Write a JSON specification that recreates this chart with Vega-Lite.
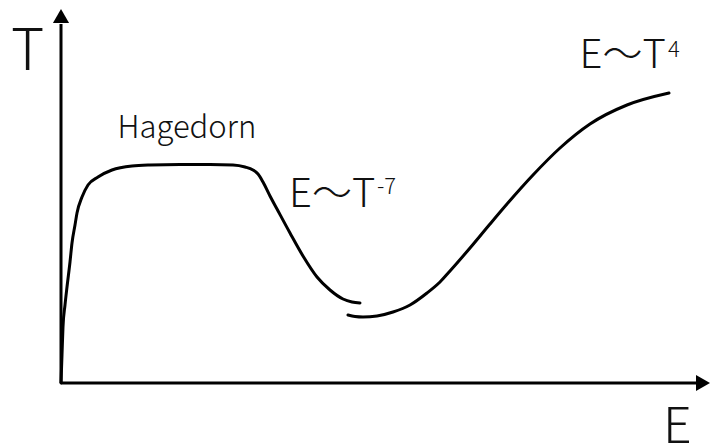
{
  "$schema": "https://vega.github.io/schema/vega-lite/v6.json",
  "width": 710,
  "height": 448,
  "autosize": {"type": "none"},
  "padding": 0,
  "background": "white",
  "config": {"view": {"stroke": null}, "text": {"font": "Noto Sans CJK JP", "fontWeight": 300, "color": "#111"}},
  "datasets": {
    "curves": [
      {"curve": "a", "E": 61, "T": 65},
      {"curve": "a", "E": 62, "T": 93},
      {"curve": "a", "E": 63, "T": 121},
      {"curve": "a", "E": 65, "T": 143},
      {"curve": "a", "E": 67, "T": 161},
      {"curve": "a", "E": 70, "T": 186},
      {"curve": "a", "E": 72, "T": 205},
      {"curve": "a", "E": 75, "T": 223},
      {"curve": "a", "E": 77, "T": 235},
      {"curve": "a", "E": 82, "T": 251},
      {"curve": "a", "E": 88, "T": 263},
      {"curve": "a", "E": 98, "T": 271},
      {"curve": "a", "E": 112, "T": 278},
      {"curve": "a", "E": 132, "T": 282},
      {"curve": "a", "E": 150, "T": 283},
      {"curve": "a", "E": 180, "T": 283.5},
      {"curve": "a", "E": 210, "T": 283.5},
      {"curve": "a", "E": 233, "T": 283},
      {"curve": "a", "E": 245, "T": 281},
      {"curve": "a", "E": 253, "T": 278},
      {"curve": "a", "E": 258, "T": 274},
      {"curve": "a", "E": 263, "T": 266},
      {"curve": "a", "E": 270, "T": 252},
      {"curve": "a", "E": 277, "T": 239},
      {"curve": "a", "E": 290, "T": 215},
      {"curve": "a", "E": 303, "T": 192},
      {"curve": "a", "E": 317, "T": 171},
      {"curve": "a", "E": 330, "T": 158},
      {"curve": "a", "E": 343, "T": 149},
      {"curve": "a", "E": 352, "T": 146},
      {"curve": "a", "E": 360, "T": 145},
      {"curve": "b", "E": 348, "T": 133},
      {"curve": "b", "E": 355, "T": 131.5},
      {"curve": "b", "E": 363, "T": 131},
      {"curve": "b", "E": 377, "T": 132},
      {"curve": "b", "E": 393, "T": 136},
      {"curve": "b", "E": 410, "T": 143},
      {"curve": "b", "E": 427, "T": 155},
      {"curve": "b", "E": 440, "T": 166},
      {"curve": "b", "E": 450, "T": 177},
      {"curve": "b", "E": 470, "T": 200},
      {"curve": "b", "E": 490, "T": 224},
      {"curve": "b", "E": 507, "T": 244},
      {"curve": "b", "E": 533, "T": 273},
      {"curve": "b", "E": 560, "T": 300},
      {"curve": "b", "E": 590, "T": 324},
      {"curve": "b", "E": 627, "T": 343},
      {"curve": "b", "E": 669, "T": 355}
    ],
    "axes": [
      {"axis": "T", "E": 61, "T": 65, "E2": 61, "T2": 424},
      {"axis": "E", "E": 61, "T": 65, "E2": 703, "T2": 65}
    ],
    "arrows": [
      {"axis": "T", "E": 61, "T": 432, "dir": "triangle-up"},
      {"axis": "E", "E": 703, "T": 65, "dir": "triangle-right"}
    ],
    "bigLabels": [
      {"label": "T", "E": 11, "T": 378}
    ],
    "eLabel": [
      {"label": "E", "E": 663, "T": 5}
    ],
    "hagedorn": [
      {"label": "Hagedorn", "E": 117.5, "T": 310}
    ],
    "laws": [
      {"label": "E〜T", "E": 289, "T": 241},
      {"label": "E〜T", "E": 579.5, "T": 380}
    ],
    "exps": [
      {"label": "-7", "E": 377, "T": 254},
      {"label": "4", "E": 668, "T": 391}
    ]
  },
  "layer": [
    {
      "data": {"name": "axes"},
      "mark": {"type": "rule", "strokeWidth": 3, "color": "black"},
      "encoding": {
        "x": {"field": "E", "type": "quantitative", "scale": {"domain": [0, 710], "nice": false, "zero": false}, "axis": null},
        "y": {"field": "T", "type": "quantitative", "scale": {"domain": [0, 448], "nice": false, "zero": false}, "axis": null},
        "x2": {"field": "E2"},
        "y2": {"field": "T2"}
      }
    },
    {
      "data": {"name": "arrows"},
      "mark": {"type": "point", "filled": true, "opacity": 1, "color": "black", "size": 260},
      "encoding": {
        "x": {"field": "E", "type": "quantitative"},
        "y": {"field": "T", "type": "quantitative"},
        "shape": {"field": "dir", "type": "nominal", "scale": null}
      }
    },
    {
      "data": {"name": "curves"},
      "mark": {"type": "line", "strokeWidth": 3, "color": "black", "interpolate": "monotone", "strokeCap": "round"},
      "encoding": {
        "x": {"field": "E", "type": "quantitative"},
        "y": {"field": "T", "type": "quantitative"},
        "detail": {"field": "curve", "type": "nominal"}
      }
    },
    {
      "data": {"name": "bigLabels"},
      "mark": {"type": "text", "fontSize": 57, "align": "left", "baseline": "alphabetic"},
      "encoding": {
        "x": {"field": "E", "type": "quantitative"},
        "y": {"field": "T", "type": "quantitative"},
        "text": {"field": "label"}
      }
    },
    {
      "data": {"name": "eLabel"},
      "mark": {"type": "text", "fontSize": 50, "align": "left", "baseline": "alphabetic"},
      "encoding": {
        "x": {"field": "E", "type": "quantitative"},
        "y": {"field": "T", "type": "quantitative"},
        "text": {"field": "label"}
      }
    },
    {
      "data": {"name": "hagedorn"},
      "mark": {"type": "text", "fontSize": 31, "align": "left", "baseline": "alphabetic"},
      "encoding": {
        "x": {"field": "E", "type": "quantitative"},
        "y": {"field": "T", "type": "quantitative"},
        "text": {"field": "label"}
      }
    },
    {
      "data": {"name": "laws"},
      "mark": {"type": "text", "fontSize": 40, "align": "left", "baseline": "alphabetic"},
      "encoding": {
        "x": {"field": "E", "type": "quantitative"},
        "y": {"field": "T", "type": "quantitative"},
        "text": {"field": "label"}
      }
    },
    {
      "data": {"name": "exps"},
      "mark": {"type": "text", "fontSize": 22, "align": "left", "baseline": "alphabetic"},
      "encoding": {
        "x": {"field": "E", "type": "quantitative"},
        "y": {"field": "T", "type": "quantitative"},
        "text": {"field": "label"}
      }
    }
  ]
}
